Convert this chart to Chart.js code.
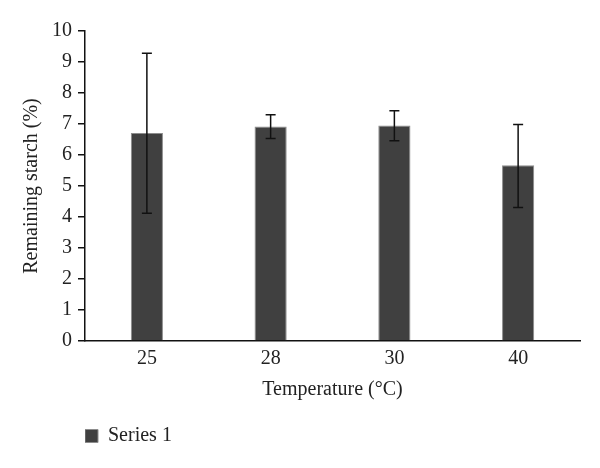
<!DOCTYPE html>
<html>
<head>
<meta charset="utf-8">
<script src="https://cdn.jsdelivr.net/npm/chart.js@4/dist/chart.umd.min.js"></script>
<style>
  html, body { margin: 0; padding: 0; background: #fff; }
  #wrap { width: 600px; height: 468px; position: relative; }
</style>
</head>
<body>
<div id="wrap"><canvas id="starchChart"></canvas></div>
<script>
// дані з рисунка
const temps = ['25', '28', '30', '40'];
const starch = [6.71, 6.92, 6.95, 5.67];
const errLow = [4.12, 6.53, 6.46, 4.31];
const errHigh = [9.28, 7.30, 7.43, 6.98];
const yTicks = [0, 1, 2, 3, 4, 5, 6, 7, 8, 9, 10];

const serif = "'Liberation Serif', 'DejaVu Serif', serif";

// вуса похибок
const errorBars = {
    id: 'errorBars',
    afterDatasetsDraw(chart) {
        const { ctx, scales: { y } } = chart;
        const meta = chart.getDatasetMeta(0);
        ctx.save();
        ctx.strokeStyle = '#111';
        ctx.lineWidth = 1.5;
        meta.data.forEach((bar, i) => {
            const top = y.getPixelForValue(errHigh[i]);
            const bot = y.getPixelForValue(errLow[i]);
            ctx.beginPath();
            ctx.moveTo(bar.x, top);
            ctx.lineTo(bar.x, bot);
            ctx.moveTo(bar.x - 5, top);
            ctx.lineTo(bar.x + 5, top);
            ctx.moveTo(bar.x - 5, bot);
            ctx.lineTo(bar.x + 5, bot);
            ctx.stroke();
        });
        ctx.restore();
    }
};

new Chart(document.getElementById('starchChart'), {
    type: 'bar',
    data: {
        labels: temps,
        datasets: [{
            label: 'Series 1',
            data: starch,
            backgroundColor: '#404040',
            borderColor: '#8c8c8c',
            borderWidth: 1,
            barPercentage: 0.26,
            categoryPercentage: 1
        }]
    },
    plugins: [errorBars],
    options: {
        responsive: true,
        maintainAspectRatio: false,
        animation: false,
        layout: { padding: { left: 20, right: 20, top: 31, bottom: 12 } },
        plugins: {
            tooltip: { enabled: false },
            legend: {
                position: 'bottom',
                align: 'start',
                fullSize: false,
                labels: {
                    boxWidth: 13,
                    boxHeight: 13,
                    padding: 0,
                    color: '#222',
                    font: { family: serif, size: 20 }
                }
            }
        },
        scales: {
            x: {
                grid: { display: false, drawTicks: false },
                border: { display: true, color: '#111', width: 1.5 },
                ticks: { color: '#222', padding: 6, font: { family: serif, size: 20 } },
                title: {
                    display: true,
                    text: 'Temperature (°C)',
                    color: '#222',
                    padding: { top: 1, bottom: 24 },
                    font: { family: serif, size: 20 }
                }
            },
            y: {
                min: 0,
                max: 10,
                afterBuildTicks: (scale) => { scale.ticks = yTicks.map(v => ({ value: v })); },
                grid: { display: true, drawOnChartArea: false, drawTicks: true, tickLength: 7, color: '#111', lineWidth: 1.5 },
                border: { display: true, color: '#111', width: 1.5 },
                ticks: { color: '#222', padding: 6, font: { family: serif, size: 20 } },
                title: {
                    display: true,
                    text: 'Remaining starch (%)',
                    color: '#222',
                    padding: { top: 0, bottom: 2 },
                    font: { family: serif, size: 20 }
                }
            }
        }
    }
});
</script>
</body>
</html>
